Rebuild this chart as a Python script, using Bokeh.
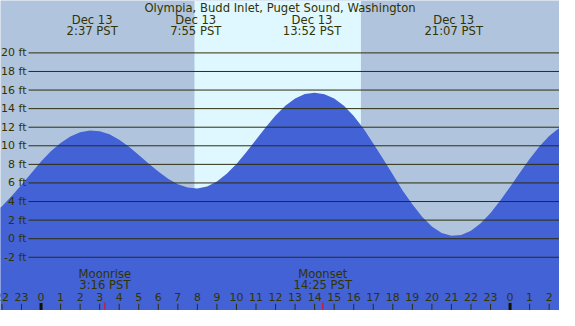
from bokeh.plotting import figure
from bokeh.models import Range1d, BoxAnnotation
from bokeh.core.properties import value
from bokeh.embed import file_html
from bokeh.resources import INLINE

# ---------------- data ----------------
title_text = "Olympia, Budd Inlet, Puget Sound, Washington"

tide_hours = [-2.5, -2.0, -1.5, -1.0, -0.5, 0.0, 0.5, 1.0, 1.5, 2.0,
              2.5, 3.0, 3.5, 4.0, 4.5, 5.0, 5.5, 6.0, 6.5, 7.0,
              7.5, 8.0, 8.5, 9.0, 9.5, 10.0, 10.5, 11.0, 11.5, 12.0,
              12.5, 13.0, 13.5, 14.0, 14.5, 15.0, 15.5, 16.0, 16.5, 17.0,
              17.5, 18.0, 18.5, 19.0, 19.5, 20.0, 20.5, 21.0, 21.5, 22.0,
              22.5, 23.0, 23.5, 24.0, 24.5, 25.0, 25.5, 26.0, 26.5, 27.0]
tide_ft = [2.6, 3.5, 4.6, 5.8, 7.05, 8.3, 9.4, 10.3, 11.0, 11.45,
           11.65, 11.57, 11.23, 10.66, 9.91, 9.02, 8.10, 7.22, 6.44, 5.85,
           5.50, 5.40, 5.62, 6.15, 6.98, 8.05, 9.3, 10.65, 12.0, 13.25,
           14.3, 15.1, 15.58, 15.7, 15.55, 15.1, 14.3, 13.2, 11.85, 10.25,
           8.6, 6.9, 5.2, 3.7, 2.35, 1.3, 0.61, 0.32, 0.40, 0.86,
           1.67, 2.77, 4.10, 5.57, 7.10, 8.58, 9.93, 11.05, 11.90, 12.38]

extreme_hours = [2.617, 7.917, 13.867, 21.117]
extreme_dates = ["Dec 13", "Dec 13", "Dec 13", "Dec 13"]
extreme_times = ["2:37 PST", "7:55 PST", "13:52 PST", "21:07 PST"]

sun_hours = [7.85, 16.37]          # sunrise, sunset

moon_hours = [3.267, 14.417]
moon_events = ["Moonrise", "Moonset"]
moon_times = ["3:16 PST", "14:25 PST"]

level_ft = [20, 18, 16, 14, 12, 10, 8, 6, 4, 2, 0, -2]
level_labels = ["20 ft", "18 ft", "16 ft", "14 ft", "12 ft", "10 ft",
                "8 ft", "6 ft", "4 ft", "2 ft", "0 ft", "-2 ft"]

hour_ticks = [-2, -1, 0, 1, 2, 3, 4, 5, 6, 7, 8, 9, 10, 11, 12, 13, 14,
              15, 16, 17, 18, 19, 20, 21, 22, 23, 24, 25, 26]
hour_labels = ["22", "23", "0", "1", "2", "3", "4", "5", "6", "7", "8",
               "9", "10", "11", "12", "13", "14", "15", "16", "17", "18",
               "19", "20", "21", "22", "23", "0", "1", "2"]
midnight_hours = [0, 24]

# ---------------- styling ----------------
W, H = 559, 310
X0, X1 = -2.075, 26.53
Y0, Y1 = -7.73, 25.64
PX_H = W / (X1 - X0)
PX_FT = H / (Y1 - Y0)

NIGHT = "#B0C4DE"
DAY = "#DFF7FF"
WATER = "#4262D6"
LINE = "#2E2E0A"
TEXT = "#333300"
FONT = value("DejaVu Sans")
FS_AX = "11px"
FS_TX = "11.6px"

p = figure(width=W, height=H, x_range=Range1d(X0, X1), y_range=Range1d(Y0, Y1),
           x_axis_type=None, y_axis_type=None,
           output_backend="svg", toolbar_location=None, min_border=0,
           background_fill_color=NIGHT, border_fill_color=NIGHT,
           outline_line_color=None)

# daylight band
p.add_layout(BoxAnnotation(left=sun_hours[0], right=sun_hours[1],
                           fill_color=DAY, fill_alpha=1.0, line_color=None,
                           level="underlay"))

# water
p.varea(x=tide_hours, y1=Y0 - 5, y2=tide_ft, fill_color=WATER)

# horizontal level lines
gx0 = X0 + 28 / PX_H
p.segment(x0=[gx0] * len(level_ft), x1=[X1 + 1] * len(level_ft),
          y0=level_ft, y1=level_ft, line_color=LINE, line_width=1)

# level labels
p.text(x=[X0] * len(level_ft), y=level_ft, text=level_labels, x_offset=26,
       text_align="right", text_baseline="middle", text_font=FONT,
       text_font_size=FS_AX, text_color=TEXT)

# title
p.text(x=[(X0 + X1) / 2], y=[Y1], text=[title_text], y_offset=7,
       text_align="center", text_baseline="middle", text_font=FONT,
       text_font_size=FS_TX, text_color=TEXT)

# extreme labels
p.text(x=extreme_hours, y=[Y1] * 4, text=extreme_dates, y_offset=19,
       text_align="center", text_baseline="middle", text_font=FONT,
       text_font_size=FS_TX, text_color=TEXT)
p.text(x=extreme_hours, y=[Y1] * 4, text=extreme_times, y_offset=30.5,
       text_align="center", text_baseline="middle", text_font=FONT,
       text_font_size=FS_TX, text_color=TEXT)

# hour ticks
tick_top = Y0 + 6.7 / PX_FT
p.segment(x0=hour_ticks, x1=hour_ticks, y0=[Y0] * len(hour_ticks),
          y1=[tick_top] * len(hour_ticks), line_color=LINE, line_width=1)
p.segment(x0=midnight_hours, x1=midnight_hours, y0=[Y0] * 2,
          y1=[Y0 + 7.6 / PX_FT] * 2, line_color="#111100", line_width=3)
p.segment(x0=moon_hours, x1=moon_hours, y0=[Y0] * 2,
          y1=[Y0 + 8 / PX_FT] * 2, line_color="#FF0000", line_width=1)

# hour labels
p.text(x=hour_ticks, y=[Y0] * len(hour_ticks), text=hour_labels, y_offset=-14,
       text_align="center", text_baseline="middle", text_font=FONT,
       text_font_size=FS_AX, text_color=TEXT)

# moon labels
p.text(x=moon_hours, y=[Y0] * 2, text=moon_events, y_offset=-36.5,
       text_align="center", text_baseline="middle", text_font=FONT,
       text_font_size=FS_TX, text_color=TEXT)
p.text(x=moon_hours, y=[Y0] * 2, text=moon_times, y_offset=-25.5,
       text_align="center", text_baseline="middle", text_font=FONT,
       text_font_size=FS_TX, text_color=TEXT)

open("out.html", "w").write(file_html(p, INLINE))
